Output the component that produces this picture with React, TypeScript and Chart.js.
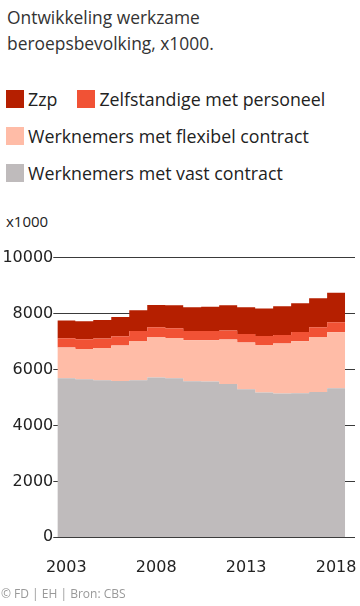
import React, { useEffect, useRef } from "react";
import { Chart, registerables } from "chart.js";

Chart.register(...registerables);

const years = [2003, 2004, 2005, 2006, 2007, 2008, 2009, 2010, 2011, 2012, 2013, 2014, 2015, 2016, 2017, 2018];
const vastContract = [5689, 5654, 5618, 5593, 5618, 5714, 5689, 5582, 5571, 5486, 5296, 5179, 5143, 5154, 5200, 5332];
const flexContract = [1097, 1082, 1153, 1264, 1403, 1450, 1440, 1464, 1475, 1585, 1668, 1700, 1786, 1857, 1964, 2000];
const zelfstandigePersoneel = [332, 346, 336, 332, 358, 347, 346, 333, 333, 322, 307, 321, 307, 332, 347, 357];
const zzp = [632, 643, 664, 690, 739, 796, 825, 846, 871, 903, 954, 979, 1025, 1025, 1035, 1061];
const xTickYears = [2003, 2008, 2013, 2018];
const yTicks = [0, 2000, 4000, 6000, 8000, 10000];

const seriesLabels = ["Werknemers met vast contract", "Werknemers met flexibel contract", "Zelfstandige met personeel", "Zzp"];
const seriesColors = ["#bfbbbc", "#ffbca7", "#f15235", "#b51f00"];

function stepPoints(values: number[]) {
  const pts = values.map((v, i) => ({ x: years[i] - 0.5, y: v }));
  pts.push({ x: years[years.length - 1] + 0.5, y: values[values.length - 1] });
  return pts;
}

const TICK_FONT = { family: "'DejaVu Sans', sans-serif", size: 16 };
const TEXT_FONT = "'Open Sans', sans-serif";

export default function App() {
  const canvasRef = useRef<HTMLCanvasElement | null>(null);

  useEffect(() => {
    const canvas = canvasRef.current;
    if (!canvas) return;
    const seriesValues = [vastContract, flexContract, zelfstandigePersoneel, zzp];
    const chart = new Chart(canvas, {
      type: "line",
      data: {
        datasets: seriesValues.map((vals, i) => ({
          label: seriesLabels[i],
          data: stepPoints(vals),
          stepped: true,
          fill: i === 0 ? "origin" : "-1",
          backgroundColor: seriesColors[i],
          borderColor: "rgba(0,0,0,0)",
          borderWidth: 0,
          pointRadius: 0,
          pointHoverRadius: 0,
        })),
      },
      options: {
        animation: false,
        responsive: false,
        maintainAspectRatio: false,
        events: [],
        layout: { padding: { top: 17.7, right: 5, left: 0, bottom: 0 } },
        plugins: {
          legend: { display: false },
          tooltip: { enabled: false },
          title: { display: false },
        },
        scales: {
          x: {
            type: "linear",
            min: 2002.5,
            max: 2019.05,
            grid: { display: false },
            border: { display: false },
            afterBuildTicks: (scale: any) => {
              scale.ticks = xTickYears.map((v) => ({ value: v }));
            },
            afterFit: (scale: any) => {
              scale.height = 48.7;
              scale.paddingLeft = 0;
              scale.paddingRight = 0;
            },
            ticks: {
              autoSkip: false,
              maxRotation: 0,
              padding: 13,
              color: "#222",
              font: TICK_FONT,
              callback: (v: any) => String(v),
            },
          },
          y: {
            stacked: true,
            min: 0,
            max: 10000,
            z: 1,
            afterBuildTicks: (scale: any) => {
              scale.ticks = yTicks.map((v) => ({ value: v }));
            },
            afterFit: (scale: any) => {
              scale.width = 57.3;
            },
            grid: { color: "#3a3a3a", lineWidth: 1, tickLength: 4, drawTicks: true },
            border: { display: false },
            ticks: {
              padding: 0,
              color: "#222",
              font: TICK_FONT,
              callback: (v: any) => String(v),
            },
          },
        },
      },
    });
    return () => chart.destroy();
  }, []);

  const legendItem = (label: string, color: string) => (
    <div style={{ display: "flex", alignItems: "center", marginRight: 20 }}>
      <span style={{ display: "inline-block", width: 18, height: 18, background: color, marginRight: 4 }} />
      <span>{label}</span>
    </div>
  );

  return (
    <div style={{ position: "absolute", left: 0, top: 0, width: 360, height: 606, fontFamily: TEXT_FONT, color: "#222" }}>
      <div style={{ position: "absolute", left: 7, top: 4, fontSize: 17.4, lineHeight: "26px", color: "#333" }}>
        Ontwikkeling werkzame
        <br />
        beroepsbevolking, x1000.
      </div>
      <div style={{ position: "absolute", left: 6, top: 88, fontSize: 17.8, lineHeight: "22px" }}>
        <div style={{ display: "flex", height: 22 }}>
          {legendItem(seriesLabels[3], seriesColors[3])}
          {legendItem(seriesLabels[2], seriesColors[2])}
        </div>
        <div style={{ display: "flex", height: 22, marginTop: 15 }}>{legendItem(seriesLabels[1], seriesColors[1])}</div>
        <div style={{ display: "flex", height: 22, marginTop: 15 }}>{legendItem(seriesLabels[0], seriesColors[0])}</div>
      </div>
      <div style={{ position: "absolute", left: 6, top: 211, fontSize: 15, lineHeight: "20px", color: "#222" }}>x1000</div>
      <canvas ref={canvasRef} width={360} height={346} style={{ position: "absolute", left: 0, top: 240, width: 360, height: 346 }} />
      <div style={{ position: "absolute", left: 1, top: 585, fontSize: 12, lineHeight: "18px", color: "#999" }}>
        © FD | EH | Bron: CBS
      </div>
    </div>
  );
}
